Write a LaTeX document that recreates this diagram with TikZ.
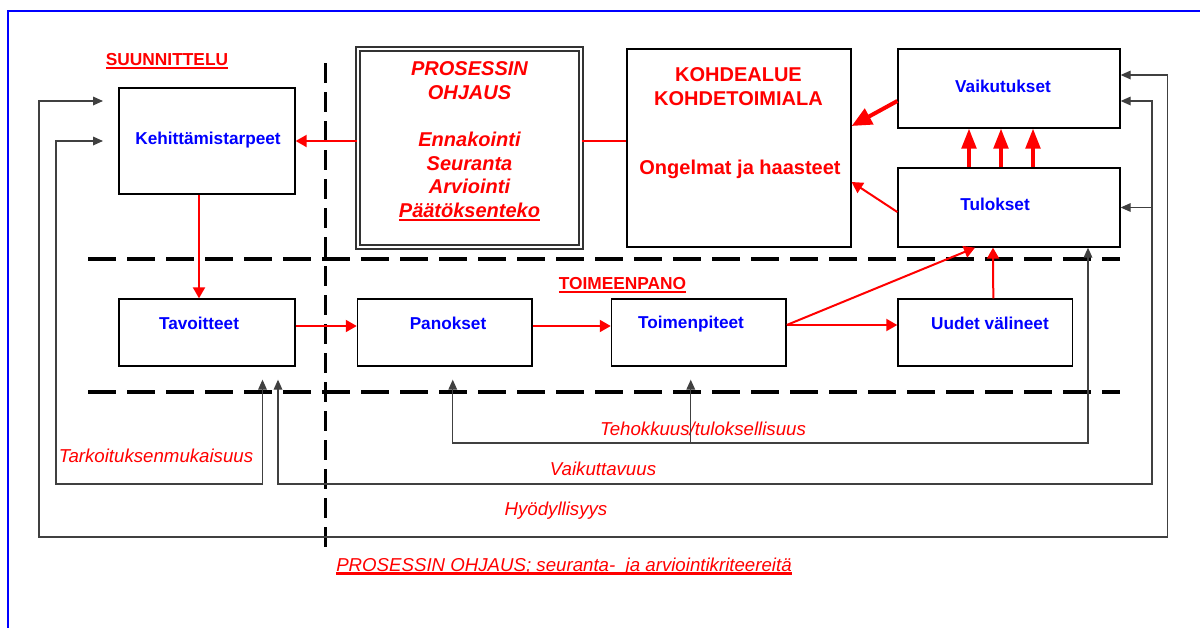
\documentclass[tikz,border=0pt]{standalone}
\usepackage{fontspec}
\setmainfont{Liberation Sans}
\usepackage{xcolor}
\usepackage{tikz}
\usetikzlibrary{calc}
\usetikzlibrary{arrows.meta}
\newcommand{\ulred}[2][1.2pt]{\setbox0=\hbox{#2}\rlap{\rule[-3pt]{\wd0}{#1}}\box0}

\begin{document}
\begin{tikzpicture}[x = 0.75pt, y = -0.75pt,
		box/.style = {draw, line width = 1pt, minimum width = 132pt, minimum height = 50.25pt, inner sep = 0pt},
		boxtext/.style = {anchor = base, text = blue, font = \fontsize{12.9}{15}\selectfont\bfseries},
		head/.style = {anchor = base, text = red, font = \fontsize{13}{15}\selectfont\bfseries},
		kohd/.style = {anchor = base, text = red, font = \fontsize{15}{18}\selectfont\bfseries},
		ohj/.style = {anchor = base, text = red, font = \fontsize{15}{18}\selectfont\bfseries\itshape},
		crit/.style = {anchor = base, text = red, font = \fontsize{14}{16}\selectfont\itshape},
		redarr/.style = {red, line width = 1.5pt, -{Triangle[length = 8.25pt, width = 9pt]}},
		fb/.style = {black!75, line width = 0.9pt},
		fbtip/.style = {-{Triangle[length = 7.5pt, width = 6.5pt]}},
		fbboth/.style = {{Triangle[length = 7.5pt, width = 6.5pt]}-{Triangle[length = 7.5pt, width = 6.5pt]}},
		divider/.style = {line width = 2.4pt, dash pattern = on 21pt off 8.25pt}]
		\useasboundingbox (0,0) rectangle (1200,628);
		\draw[blue, line width = 1pt] (8,628) -- (8,11) -- (1200,11);
		\draw[divider] (88,259) -- (1120,259);
		\draw[divider] (88,392) -- (1120,392);
		\draw[divider, dash pattern = on 15pt off 6.75pt] (325.7,63) -- (325.7,548);
		\node[box, minimum height = 79.5pt] (keh) at (207,141) {};
		\node[box] (tav) at (207,332.5) {};
		\node[box, minimum width = 131pt] (pan) at (444.75,332.5) {};
		\node[box, minimum width = 131pt] (toi) at (698.75,332.5) {};
		\node[box, minimum width = 131pt] (uud) at (985.3,332.5) {};
		\node[box, minimum width = 166.5pt, minimum height = 59.25pt] (vaik) at (1009,88.5) {};
		\node[box, minimum width = 166.5pt, minimum height = 59.25pt] (tul) at (1009,207.5) {};
		\node[box, minimum width = 168pt, minimum height = 148.5pt] (kohde) at (739,148) {};
		\node[box, minimum width = 167.25pt, minimum height = 148.5pt, draw = black!80, line width = 1.2pt, double = white, double distance = 1.8pt] (ohjaus) at (469.25,148) {};
		\node[boxtext] (kehtext) at (208,144) {Kehittämistarpeet};
		\node[boxtext] (tavtext) at (199,329) {Tavoitteet};
		\node[boxtext] (pantext) at (448,329) {Panokset};
		\node[boxtext] (toitext) at (691,328) {Toimenpiteet};
		\node[boxtext] (uudtext) at (990,329) {Uudet välineet};
		\node[boxtext] (vaiktext) at (1003,92) {Vaikutukset};
		\node[boxtext] (tultext) at (995,210) {Tulokset};
		\node[kohd] (kohde1) at (738.5,81) {KOHDEALUE};
		\node[kohd] (kohde2) at (738.5,105) {KOHDETOIMIALA};
		\node[kohd] (kohde3) at (740,174) {Ongelmat ja haasteet};
		\foreach \t/\y in {PROSESSIN/75, OHJAUS/99, Ennakointi/146, Seuranta/170, Arviointi/193, \ulred{Päätöksenteko}/217}
			\node[ohj] (ohj\y) at (469.5,\y) {\t};
		\node[head] (suun) at (167,65) {\ulred{SUUNNITTELU}};
		\node[head] (toim) at (622.5,289) {\ulred{TOIMEENPANO}};
		\node[crit] (tark) at (156,462) {Tarkoituksenmukaisuus};
		\node[crit] (teho) at (703,435) {Tehokkuus/tuloksellisuus};
		\node[crit] (vaikut) at (603,475) {Vaikuttavuus};
		\node[crit] (hyod) at (556,515) {Hyödyllisyys};
		\node[crit] (capt) at (564,571) {\ulred[1.9pt]{PROSESSIN OHJAUS; seuranta-\ \ ja arviointikriteereitä}};
		\draw[redarr] (ohjaus.west |- keh.east) -- (keh.east);
		\draw[red, line width = 1.5pt] (ohjaus.east |- keh.east) -- (kohde.west |- keh.east);
		\draw[redarr] ($(keh.south)+(-8,0)$) -- ($(tav.north)+(-8,0)$);
		\draw[redarr] ($(tav.east)+(0,-6.5)$) -- ($(pan.west)+(0,-6.5)$);
		\draw[redarr] ($(pan.east)+(0,-6.5)$) -- ($(toi.west)+(0,-6.5)$);
		\draw[redarr] ($(toi.east)+(0,-7.5)$) -- ($(uud.west)+(0,-7.5)$);
		\draw[redarr] ($(toi.east)+(0,-7.5)$) -- ($(tul.south)+(-34,0)$);
		\draw[redarr] ($(uud.north)+(8,0)$) -- ($(tul.south)+(-16,0)$);
		\foreach \dx in {-40,-8,24}
			\draw[red, line width = 2.5pt, -{Triangle[length = 15pt, width = 11pt]}] ($(tul.north)+(\dx,0)$) -- ($(vaik.south)+(\dx,0)$);
		\draw[red, line width = 3pt, -{Triangle[length = 15pt, width = 13pt]}] ($(vaik.west)+(0,12.5)$) -- ($(kohde.east)+(0,-22)$);
		\draw[redarr] ($(tul.west)+(0,4.5)$) -- ($(kohde.east)+(0,34)$);
		\coordinate (hyo) at (103,101);
		\coordinate (tar) at (103,141);
		\coordinate (tar2) at ($(tav.south)+(55.5,13)$);
		\coordinate (vai) at ($(tav.south)+(71,13)$);
		\coordinate (teh) at ($(pan.south)+(8,13)$);
		\coordinate (teh2) at ($(toi.south)+(-8,13)$);
		\draw[fb, fbboth] (hyo) -- (39,101) -- (39,537) -- (1167.5,537) -- (1167.5,75) -- ($(vaik.east)+(0,-13.5)$);
		\draw[fb, fbboth] ($(vaik.east)+(0,12.5)$) -| (1152,484) -| (vai);
		\draw[fb, fbtip] (1152,207.5) -- (tul.east);
		\draw[fb, fbboth] (tar) -| (56,484) -| (tar2);
		\draw[fb, fbboth] ($(tul.south)+(79,0)$) -- (1088,443) -- (452.75,443) -- (teh);
		\draw[fb, fbtip] (690.75,443) -- (teh2);
	\end{tikzpicture}
\end{document}
